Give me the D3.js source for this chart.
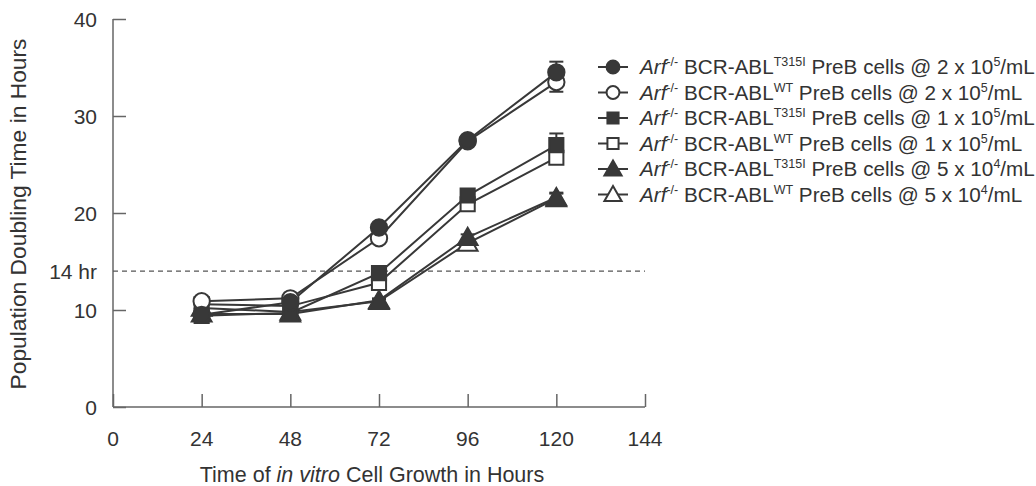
<!DOCTYPE html>
<html>
<head>
<meta charset="utf-8">
<script src="https://cdn.jsdelivr.net/npm/d3@7"></script>
<style>
  body { margin: 0; background: #fff; }
  svg text { font-family: "Liberation Sans", Arial, sans-serif; fill: #333; }
</style>
</head>
<body>
<svg id="chart" width="1036" height="486"></svg>
<script>
// hours in culture
const hours = [24, 48, 72, 96, 120];
const xTicks = [0, 24, 48, 72, 96, 120, 144];
const yTicks = [0, 10, 20, 30, 40];
const cutoff = 14;

// doubling time (hours) per series
const t315i2e5 = [9.5, 10.8, 18.5, 27.5, 34.5];
const wt2e5 = [10.9, 11.2, 17.4, 27.4, 33.5];
const t315i1e5 = [9.4, 9.7, 13.8, 21.8, 27.0];
const wt1e5 = [10.6, 10.4, 12.8, 20.9, 25.7];
const t315i5e4 = [9.6, 9.6, 11.0, 17.5, 21.6];
const wt5e4 = [10.2, 9.8, 10.9, 16.9, 21.5];

// error (sd) at each time point
const errT315i2e5 = [0.2, 0.2, 0.3, 0.3, 1.1];
const errWt2e5 = [0.2, 0.2, 0.3, 0.3, 1.0];
const errT315i1e5 = [0.2, 0.2, 0.2, 0.3, 1.2];
const errWt1e5 = [0.2, 0.2, 0.2, 0.3, 0.5];
const errT315i5e4 = [0.2, 0.2, 0.2, 0.3, 0.5];
const errWt5e4 = [0.2, 0.2, 0.2, 0.3, 0.5];

const variants = ["T315I", "WT", "T315I", "WT", "T315I", "WT"];
const densities = [["2 x 10", "5"], ["2 x 10", "5"], ["1 x 10", "5"], ["1 x 10", "5"], ["5 x 10", "4"], ["5 x 10", "4"]];

const series = [
  { vals: t315i2e5, err: errT315i2e5, shape: d3.symbolCircle, fill: true },
  { vals: wt2e5, err: errWt2e5, shape: d3.symbolCircle, fill: false },
  { vals: t315i1e5, err: errT315i1e5, shape: d3.symbolSquare, fill: true },
  { vals: wt1e5, err: errWt1e5, shape: d3.symbolSquare, fill: false },
  { vals: t315i5e4, err: errT315i5e4, shape: d3.symbolTriangle, fill: true },
  { vals: wt5e4, err: errWt5e4, shape: d3.symbolTriangle, fill: false }
];

const ink = "#383838";
const axisInk = "#666";

const svg = d3.select("#chart");
const x = d3.scaleLinear().domain([0, 144]).range([113, 645]);
const y = d3.scaleLinear().domain([0, 40]).range([407, 19]);

// axes
const xAxis = svg.append("g").attr("transform", `translate(0,${y(0)})`)
  .call(d3.axisTop(x).tickValues(xTicks).tickSize(13).tickFormat(""));
xAxis.select(".domain").attr("d", `M${x(0)},0H${x(144)}`);
const yAxis = svg.append("g").attr("transform", `translate(${x(0)},0)`)
  .call(d3.axisRight(y).tickValues(yTicks).tickSize(13).tickFormat(""));
yAxis.select(".domain").attr("d", `M0,${y(40)}V${y(0)}`);
svg.selectAll(".domain, .tick line").attr("stroke", axisInk).attr("stroke-width", 1.5);

svg.append("g").selectAll("text").data(xTicks).join("text")
  .attr("x", d => x(d)).attr("y", 446)
  .attr("text-anchor", "middle").attr("font-size", 21).text(d => d);
svg.append("g").selectAll("text").data(yTicks).join("text")
  .attr("x", 97).attr("y", d => y(d) + 7.5)
  .attr("text-anchor", "end").attr("font-size", 21).text(d => d);
svg.append("text").attr("x", 97).attr("y", y(cutoff) + 7.5)
  .attr("text-anchor", "end").attr("font-size", 21).text("14 hr");

// titles
const xt = svg.append("text").attr("x", 372).attr("y", 482)
  .attr("text-anchor", "middle").attr("font-size", 21.5);
xt.append("tspan").text("Time of ");
xt.append("tspan").attr("font-style", "italic").text("in vitro");
xt.append("tspan").text(" Cell Growth in Hours");
svg.append("text").attr("transform", `translate(26,${(y(0) + y(40)) / 2 + 1}) rotate(-90)`)
  .attr("text-anchor", "middle").attr("font-size", 22.8)
  .text("Population Doubling Time in Hours");

// 14 hr cutoff
svg.append("line")
  .attr("x1", x(0)).attr("x2", x(144)).attr("y1", y(cutoff)).attr("y2", y(cutoff))
  .attr("stroke", "#555").attr("stroke-width", 1.2).attr("stroke-dasharray", "5,4");

const symSize = s => s === d3.symbolCircle ? 210 : s === d3.symbolSquare ? 200 : 170;

const line = d3.line().x((d, i) => x(hours[i])).y(d => y(d));

// error bars
series.forEach(s => {
  const g = svg.append("g").attr("stroke", ink).attr("stroke-width", 2);
  s.vals.forEach((v, i) => {
    const cx = x(hours[i]);
    g.append("line").attr("x1", cx).attr("x2", cx).attr("y1", y(v - s.err[i])).attr("y2", y(v + s.err[i]));
    [v - s.err[i], v + s.err[i]].forEach(e => g.append("line")
      .attr("x1", cx - 7).attr("x2", cx + 7).attr("y1", y(e)).attr("y2", y(e)));
  });
});

series.forEach(s => {
  svg.append("path").datum(s.vals).attr("d", line)
    .attr("fill", "none").attr("stroke", ink).attr("stroke-width", 2);
});

series.slice().reverse().forEach(s => {
  svg.append("g").selectAll("path").data(s.vals).join("path")
    .attr("transform", (d, i) => `translate(${x(hours[i])},${y(d) + (s.shape === d3.symbolTriangle ? 2 : 0)})`)
    .attr("d", d3.symbol(s.shape, symSize(s.shape)))
    .attr("fill", s.fill ? ink : "#fff").attr("stroke", ink).attr("stroke-width", 2);
});

// legend
const leg = svg.append("g");
series.forEach((s, i) => {
  const ly = 67 + i * 25.5;
  leg.append("line").attr("x1", 598).attr("x2", 628).attr("y1", ly).attr("y2", ly)
    .attr("stroke", ink).attr("stroke-width", 2);
  leg.append("path").attr("transform", `translate(613,${ly + (s.shape === d3.symbolTriangle ? 1.5 : 0)})`)
    .attr("d", d3.symbol(s.shape, symSize(s.shape) * (s.shape === d3.symbolTriangle ? 0.75 : 0.62)))
    .attr("fill", s.fill ? ink : "#fff").attr("stroke", ink).attr("stroke-width", 2);
  const t = leg.append("text").attr("x", 640).attr("y", ly + 7).attr("font-size", 20.7);
  t.append("tspan").attr("font-style", "italic").text("Arf");
  t.append("tspan").attr("font-size", 12.5).attr("dy", -8).text("-/-");
  t.append("tspan").attr("dy", 8).text(" BCR-ABL");
  t.append("tspan").attr("font-size", 12.5).attr("dy", -8).text(variants[i]);
  t.append("tspan").attr("dy", 8).text(" PreB cells @ " + densities[i][0]);
  t.append("tspan").attr("font-size", 12.5).attr("dy", -8).text(densities[i][1]);
  t.append("tspan").attr("dy", 8).text("/mL");
});
</script>
</body>
</html>
